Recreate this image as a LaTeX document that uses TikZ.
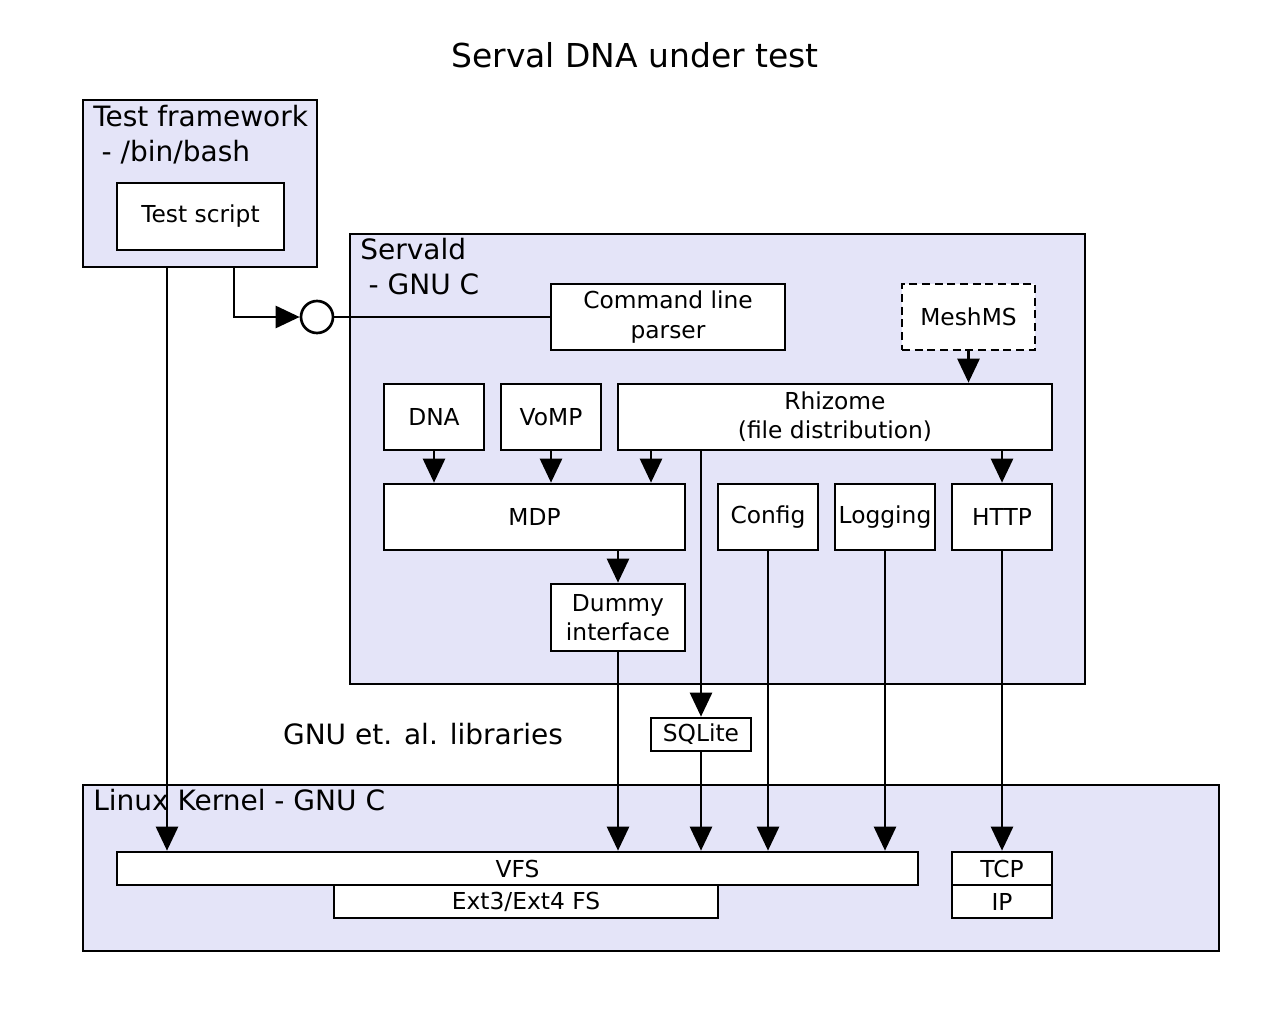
\documentclass[tikz,border=0pt]{standalone}
\usepackage{fontspec}
\setmainfont{DejaVu Sans}
\usetikzlibrary{arrows.meta}

\definecolor{boxfill}{RGB}{228,228,248}
\tikzset{
  cont/.style={draw, line width=2pt, fill=boxfill, inner sep=0pt},
  blk/.style={draw, line width=2pt, fill=white, inner sep=0pt, align=center,
    font=\fontsize{17.5pt}{22pt}\selectfont},
  biglbl/.style={anchor=north west, inner sep=0pt, align=left,
    font=\fontsize{21pt}{26.5pt}\selectfont},
  arr/.style={line width=2pt, -{Triangle[length=18pt,width=16.5pt]}},
  ln/.style={line width=2pt}
}

\begin{document}
\begin{tikzpicture}[x=0.75pt,y=-0.75pt]
  \useasboundingbox[fill=white] (0,0) rectangle (1280,1020);

  \node[font=\fontsize{24.7pt}{28pt}\selectfont] (title) at (635,55) {Serval DNA under test};

  % test framework
  \node[cont, minimum width=175.5pt, minimum height=125.25pt] (tf) at (200,183.5) {};
  \node[biglbl] (tflbl) at (93,105) {Test framework\\\hspace*{0.3em}- /bin/bash};
  \node[blk, minimum width=125.25pt, minimum height=50.25pt] (script) at (200.5,216.5) {Test script};

  % servald
  \node[cont, minimum width=551.25pt, minimum height=337.5pt] (srv) at (717.5,459) {};
  \node[biglbl] (srvlbl) at (360,238) {Servald\\\hspace*{0.3em}- GNU C};
  \node[blk, minimum width=175.5pt, minimum height=49.5pt] (cmd) at (668,317) {Command line\\parser};
  \node[blk, dash pattern=on 6pt off 3.5pt, minimum width=99.75pt, minimum height=49.5pt] (mesh) at (968.5,317) {MeshMS};
  \node[blk, minimum width=75pt, minimum height=49.5pt] (dna) at (434,417) {DNA};
  \node[blk, minimum width=75pt, minimum height=49.5pt] (vomp) at (551,417) {VoMP};
  \node[blk, minimum width=325.5pt, minimum height=49.5pt] (rhz) at (835,417) {Rhizome\\(file distribution)};
  \node[blk, minimum width=225.75pt, minimum height=49.5pt] (mdp) at (534.5,517) {MDP};
  \node[blk, minimum width=75pt, minimum height=49.5pt] (cfg) at (768,517) {Config};
  \node[blk, minimum width=75pt, minimum height=49.5pt] (log) at (885,517) {Logging};
  \node[blk, minimum width=75pt, minimum height=49.5pt] (http) at (1002,517) {HTTP};
  \node[blk, minimum width=100.5pt, minimum height=50.25pt] (dummy) at (618,617.5) {Dummy\\interface};

  % libraries
  \node[font=\fontsize{21pt}{24pt}\selectfont] (libs) at (423,734) {GNU et. al. libraries};
  \node[blk, minimum width=75pt, minimum height=24.75pt] (sql) at (701,734.5) {SQLite};

  % kernel
  \node[cont, minimum width=852pt, minimum height=124.5pt] (kern) at (651,868) {};
  \node[biglbl] (kernlbl) at (93,789) {Linux Kernel - GNU C};
  \node[blk, minimum width=600.75pt, minimum height=24.75pt] (vfs) at (517.5,868.5) {VFS};
  \node[blk, minimum width=288pt, minimum height=24.75pt] (ext) at (526,901.5) {Ext3/Ext4 FS};
  \node[blk, minimum width=75pt, minimum height=24.75pt] (tcp) at (1002,868.5) {TCP};
  \node[blk, minimum width=75pt, minimum height=24.75pt] (ip) at (1002,901.5) {IP};

  \node[draw, circle, line width=2pt, fill=white, minimum size=24pt, inner sep=0pt] (sock) at (317,317) {};

  \coordinate (tfa) at (167,267);
  \coordinate (tfb) at (234,267);
  \coordinate (rhzm) at (651,450);

  % connectors
  \draw[arr] (tfa) -- (tfa |- vfs.north);
  \draw[arr] (tfb) |- (sock);
  \draw[ln] (sock) -- (cmd);
  \draw[arr] (mesh) -- (mesh |- rhz.north);
  \draw[arr] (dna) -- (dna |- mdp.north);
  \draw[arr] (vomp) -- (vomp |- mdp.north);
  \draw[arr] (rhzm) -- (rhzm |- mdp.north);
  \draw[arr] (sql |- rhz.south) -- (sql);
  \draw[arr] (http |- rhz.south) -- (http);
  \draw[arr] (dummy |- mdp.south) -- (dummy);
  \draw[arr] (dummy) -- (dummy |- vfs.north);
  \draw[arr] (sql) -- (sql |- vfs.north);
  \draw[arr] (cfg) -- (cfg |- vfs.north);
  \draw[arr] (log) -- (log |- vfs.north);
  \draw[arr] (http) -- (tcp);
\end{tikzpicture}
\end{document}
